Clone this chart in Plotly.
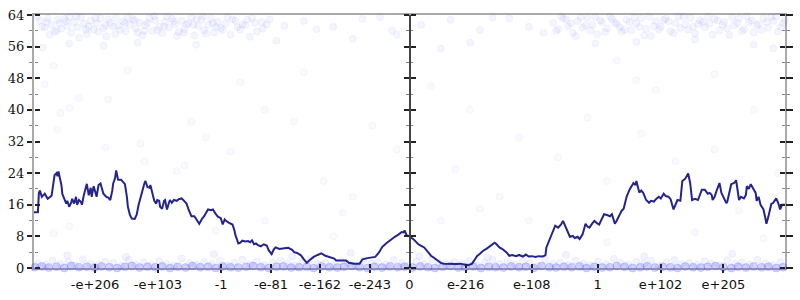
import plotly.graph_objects as go

# ---- data (x = position relative to float 0 on an ordinal scale) ----
tick_pos = [-321.6, -257.3, -192.6, -141.6, -91.6, -40.6, 0, 57.4, 125, 192.4, 256.7, 321]
tick_text = ["-e+206", "-e+103", "-1", "-e-81", "-e-162", "-e-243", "0",
             "e-216", "e-108", "1", "e+102", "e+205"]
y_ticks = [0, 8, 16, 24, 32, 40, 48, 56, 64]

line_x = [-384,-380,-379,-378,-376,-373,-370,-366,-363,-361,-360,-359,-356,-355,-353,-351,-350,-348,-346,-345,
          -343,-341,-340,-338,-336,-335,-333,-331,-330,-328,-326,-325,-323,-321,-320,-318,-316,-313,-310,-308,
          -306,-304,-303,-301,-300,-298,-295,-293,-291,-289,-288,-286,-284,-281,-279,-277,-275,-273,-271,-270,
          -268,-266,-265,-263,-261,-259,-258,-256,-255,-253,-251,-250,-248,-246,-245,-243,-241,-238,-236,-233,
          -231,-228,-226,-223,-220,-217,-215,-212,-210,-208,-206,-203,-201,-198,-196,-193,-192,-191,-189,-188,
          -185,-181,-179,-178,-175,-173,-171,-168,-165,-163,-161,-159,-157,-155,-152,-149,-146,-144,-141,-139,
          -137,-133,-128,-124,-120,-118,-115,-111,-108,-105,-102,-98,-94,-90,-86,-81,-77,-75,-70,-65,
          -62,-57,-51,-48,-43,-38,-35,-31,-28,-24,-21,-18,-15,-11,-8,-6,-5,-3,0,4,
          7,9,12,15,19,22,25,29,32,35,42,48,52,56,59,62,64,67,69,72,
          75,79,82,85,87,89,92,95,99,102,105,109,112,116,119,122,125,129,132,136,
          139,140,142,144,147,149,152,155,157,160,162,164,167,169,172,174,177,180,182,184,
          187,189,192,194,197,199,202,205,207,210,212,215,217,219,221,222,225,227,229,231,
          232,235,237,239,242,245,247,250,252,255,257,259,260,262,265,267,270,272,274,277,
          279,280,282,285,287,289,292,295,297,299,302,305,307,309,310,312,314,317,319,320,
          322,324,325,327,329,332,334,337,339,342,344,345,347,349,352,354,355,357,359,362,
          364,365,367,370,372,375,377,379,381,384]
line_y = [14.1,14.1,19.0,19.6,18.0,18.8,17.5,18.3,23.5,24.0,23.2,24.4,21.0,18.7,17.5,16.3,17.0,15.5,16.5,17.5,
          16.3,18.0,16.0,17.2,16.7,16.0,18.5,21.0,21.3,18.4,20.3,18.0,20.7,19.0,18.0,21.0,21.4,18.8,18.0,17.8,
          17.2,19.5,21.4,22.8,24.7,22.3,22.3,21.8,21.2,18.0,15.5,13.5,12.5,12.4,13.5,16.0,18.0,20.0,21.5,22.0,
          20.5,20.3,21.0,19.0,17.0,16.3,17.2,17.0,15.5,15.0,17.0,17.2,14.8,16.5,17.2,16.5,17.2,17.0,17.4,17.6,
          17.0,16.3,14.8,13.1,13.1,12.0,11.2,12.5,13.1,14.0,14.8,14.6,14.8,13.6,13.0,12.6,11.3,11.0,12.3,12.0,
          11.5,11.0,9.5,8.3,6.2,6.4,6.9,6.7,6.8,6.5,7.0,6.0,6.2,5.8,5.5,6.0,5.7,4.5,3.5,4.6,
          5.2,4.8,5.0,5.1,4.6,4.0,3.8,3.2,2.2,1.3,2.0,2.8,3.3,3.7,3.1,2.7,2.4,1.9,1.9,1.9,
          1.3,1.1,1.1,2.2,2.5,2.6,2.8,4.0,5.3,6.2,6.8,7.2,7.9,8.5,9.1,9.0,9.5,8.3,8.0,7.3,
          6.5,6.0,5.6,5.2,4.0,3.1,2.6,1.9,1.3,1.1,1.0,1.0,1.1,0.8,0.7,0.9,1.1,2.2,3.0,3.6,
          4.3,4.9,5.4,5.9,6.4,6.0,5.2,4.8,4.0,3.1,3.3,3.0,3.3,2.9,3.4,2.9,3.0,2.8,3.0,2.9,
          3.2,5.2,6.5,7.6,9.5,10.7,10.2,11.0,11.9,10.0,9.0,7.9,8.1,7.6,7.9,7.3,8.5,11.2,10.5,10.2,
          11.3,11.9,11.3,11.0,12.6,13.6,13.4,13.1,13.6,11.2,12.0,13.5,14.5,15.0,17.0,18.0,19.8,20.5,21.5,21.0,
          22.0,19.1,19.6,19.0,17.2,16.5,17.0,16.8,17.4,18.0,17.6,18.4,18.8,18.2,18.0,17.4,14.8,16.0,17.2,17.0,
          22.0,22.2,22.6,23.9,21.5,17.2,17.5,17.2,18.5,19.8,19.8,18.8,19.0,18.5,17.2,18.0,19.5,21.5,19.0,18.5,
          17.5,16.4,16.8,19.0,21.2,21.5,22.2,17.2,18.0,17.6,18.5,20.7,20.0,21.2,19.7,19.0,17.0,18.0,16.0,14.8,
          12.5,11.2,13.0,16.2,16.5,17.6,16.5,14.8,16.0,16.0]

top_pts = [(-378,62.5),(-373,60.8),(-370,63.2),(-366,61.5),(-363,59.8),(-360,62.8),(-356,60.5),(-353,63.0),
           (-350,61.2),(-346,59.5),(-343,62.2),(-340,60.9),(-336,63.4),(-333,61.8),(-330,59.2),(-326,62.6),
           (-323,60.3),(-320,61.9),(-316,63.1),(-313,60.7),(-310,58.6),(-306,62.0),(-303,61.1),(-300,63.3),
           (-296,60.2),(-293,62.4),(-290,59.9),(-286,61.6),(-283,63.0),(-280,60.6),(-276,62.1),(-273,58.9),
           (-270,61.4),(-266,63.2),(-263,60.0),(-260,62.7),(-256,61.0),(-253,59.4),(-250,62.3),(-246,60.8),
           (-243,63.1),(-240,61.7),(-236,59.7),(-233,62.5),(-230,60.4),(-226,61.9),(-223,63.3),(-220,58.8),
           (-216,61.2),(-213,62.8),(-210,60.1),(-206,61.5),(-203,63.0),(-200,59.6),(-196,62.2),(-193,60.7),
           (-188,61.8),(-183,59.0),(-178,62.6),(-173,60.3),(-168,61.4),(-163,58.5),(-158,62.0),(-150,60.6),
           (-143,62.9),(-136,57.5),(-128,61.3),
           (-376,61.0),(-368,59.0),(-358,61.9),(-348,63.5),(-338,58.3),(-328,61.1),(-318,59.8),(-308,62.9),
           (-298,61.3),(-288,63.4),(-278,59.6),(-268,62.0),(-258,60.2),(-248,63.6),(-238,58.7),(-228,61.6),
           (-218,62.9),(-208,59.3),(-198,61.0),(-186,63.5),(-176,60.9),(-166,62.8),(-156,59.8),(-146,61.6),
           (-381,63.6),(-371,62.2),(-361,60.1),(-351,62.4),(-341,63.7),(-331,60.3),(-321,63.2),(-311,61.4),
           (-301,59.2),(-291,61.9),(-281,62.6),(-271,60.0),(-261,63.7),(-251,61.1),(-241,62.4),(-231,59.5),
           (-221,61.5),(-211,63.6),(-201,62.0),(-191,60.2),(-181,62.9),(-171,61.6),(-161,63.2),(-151,62.2),
           (-375,55.8),(-348,56.8),(-313,56.2),(-278,57.0),(-218,56.5),
           (-108,62.5),(-78,61.0),(-48,63.0),(-18,60.0),(-13,59.0),(12,61.5),(42,62.8),(72,60.2),(102,63.1),
           (122,61.0),(137,59.5),(62,57.0),(32,55.5),(-58,58.0),(-95,60.4),(-30,63.5),(85,63.3),
           (147,62.0),(152,60.4),(157,63.1),(162,61.2),(167,59.5),(172,62.5),(177,60.8),(182,63.3),
           (187,61.5),(192,59.1),(197,62.2),(202,60.6),(207,63.0),(212,61.7),(217,59.8),(222,62.8),
           (227,60.2),(232,61.9),(237,63.2),(242,60.5),(247,58.7),(252,62.4),(257,61.0),(262,63.1),
           (267,59.9),(272,62.0),(277,60.7),(282,61.6),(287,63.3),(292,59.3),(297,62.6),(302,60.9),
           (307,61.8),(312,63.0),(317,60.1),(322,62.3),(327,58.9),(332,61.4),(337,63.1),(342,60.4),
           (347,62.1),(352,59.6),(357,61.7),(362,63.2),(367,60.8),(372,62.5),(377,59.8),(382,61.9),
           (150,60.0),(160,62.9),(170,58.6),(180,61.4),(190,63.5),(200,59.7),(210,62.1),(220,60.3),
           (230,63.4),(240,58.8),(250,61.2),(260,62.7),(270,59.4),(280,63.5),(290,61.0),(300,62.2),
           (310,59.0),(320,61.5),(330,63.4),(340,59.9),(350,62.6),(360,60.2),(370,63.5),(380,60.9),
           (155,63.7),(165,61.9),(175,63.4),(185,60.1),(195,62.6),(205,63.6),(215,60.9),(225,62.2),
           (235,61.0),(245,63.6),(255,60.4),(265,62.4),(275,63.7),(285,60.3),(295,61.7),(305,63.6),
           (315,62.6),(325,60.6),(335,62.0),(345,63.7),(355,61.4),(365,62.2),(375,63.6),(384,62.7),
           (190,56.8),(232,57.2),(292,57.8),(352,56.5),(372,55.6)]

mid_pts = [(-357,39.2),(-360,35.0),(-338,43.0),(-311,30.5),(-275,31.5),(-271,27.0),(-223,37.0),(-293,20.0),
           (-238,24.5),(-230,26.0),(-208,33.0),(-183,29.5),(-148,40.0),(-118,37.0),(-88,22.0),(-68,14.0),
           (-38,36.0),(-13,30.0),(22,46.0),(47,25.0),(62,40.0),(92,18.0),(112,33.0),(152,28.0),(182,38.0),
           (202,22.0),(237,34.0),(272,27.0),(312,30.0),(352,40.0),(377,24.0),(-173,47.0),(-108,49.5),
           (232,47.5),(-364,8.8),(-348,10.5),(-198,9.5),(-148,12.0),(-78,8.0),(-58,18.0),(32,12.0),
           (72,15.0),(122,12.0),(202,6.5),(292,9.0),(337,14.5),(362,7.5),
           (-364,51.2),(-373,46.5),(-288,50.0),(-308,42.7),(-348,40.5),(212,52.5),(312,49.0),(252,45.0)]

low_pts = [(-383,0.2),(-376,0.4),(-369,0.1),(-361,0.3),(-353,0.0),(-346,0.5),(-338,0.2),(-330,0.3),
           (-322,0.1),(-315,0.4),(-307,0.2),(-299,0.0),(-291,0.3),(-284,0.5),(-276,0.1),(-268,0.3),
           (-260,0.2),(-253,0.4),(-245,0.0),(-237,0.3),(-229,0.1),(-222,0.5),(-214,0.2),(-206,0.3),
           (-198,0.0),(-191,0.4),(-183,0.2),(-175,0.1),(-167,0.3),(-160,0.5),(-152,0.2),(-144,0.0),
           (-136,0.3),(-129,0.4),(-121,0.1),(-113,0.2),(-105,0.3),(-98,0.0),(-90,0.4),(-82,0.2),
           (-74,0.1),(-67,0.3),(-59,0.5),(-51,0.2),(-43,0.0),(-36,0.3),(-28,0.1),(-20,0.4),
           (-12,0.2),(-5,0.3),(3,0.1),(11,0.4),(19,0.2),(26,0.0),(34,0.3),(42,0.5),
           (50,0.1),(57,0.2),(65,0.4),(73,0.0),(81,0.3),(88,0.2),(96,0.1),(104,0.4),
           (112,0.2),(119,0.3),(127,0.0),(135,0.5),(143,0.2),(150,0.1),(158,0.3),(166,0.2),
           (174,0.4),(181,0.0),(189,0.3),(197,0.1),(205,0.2),(212,0.5),(220,0.3),(228,0.0),
           (236,0.2),(243,0.4),(251,0.1),(259,0.3),(267,0.2),(274,0.0),(282,0.4),(290,0.2),
           (298,0.1),(305,0.3),(313,0.5),(321,0.2),(329,0.0),(336,0.3),(344,0.1),(352,0.4),
           (360,0.2),(367,0.3),(375,0.0),(382,0.2)]

haze_pts = [(-380,1.2),(-372,0.8),(-365,1.9),(-357,1.0),(-349,1.5),(-342,0.7),(-334,2.2),(-326,1.1),
            (-318,0.9),(-311,1.6),(-303,1.3),(-295,0.6),(-287,2.0),(-280,1.0),(-272,1.4),(-264,0.8),
            (-256,1.7),(-249,1.1),(-241,0.6),(-233,2.4),(-225,1.2),(-218,0.9),(-210,1.5),(-202,1.0),
            (-194,1.8),(-187,0.7),(-179,1.3),(-171,2.1),(-163,1.0),(-156,1.6),(-148,0.8),(-140,1.4),
            (-132,1.9),(-125,1.1),(-117,0.7),(-109,1.5),(-101,2.3),(-94,1.0),(-86,1.3),(-78,0.8),
            (-70,1.7),(-63,1.2),(-55,0.6),(-47,1.9),(-39,1.1),(-32,1.4),(-24,0.9),(-16,2.0),
            (-8,1.2),(-1,0.7),(7,1.6),(15,1.0),(23,2.2),(30,1.3),(38,0.8),(46,1.5),
            (54,1.1),(61,1.8),(69,0.7),(77,1.3),(85,2.1),(92,1.0),(100,1.5),(108,0.9),
            (116,1.7),(123,1.2),(131,0.6),(139,2.0),(147,1.1),(154,1.4),(162,0.8),(170,1.9),
            (178,1.2),(185,0.7),(193,1.6),(201,1.0),(209,2.3),(216,1.3),(224,0.9),(232,1.5),
            (240,1.1),(247,1.8),(255,0.6),(263,1.4),(271,2.0),(278,1.0),(286,1.3),(294,0.8),
            (302,1.7),(309,1.2),(317,0.7),(325,1.9),(333,1.1),(340,1.4),(348,0.9),(356,2.1),
            (364,1.2),(371,0.8),(379,1.5),
            (-350,3.2),(-290,2.8),(-200,3.5),(-120,2.9),(-60,3.8),(10,3.0),(80,2.7),(160,3.3),
            (240,2.9),(330,3.6)]

# ---- figure ----
X_RANGE = [-384, 384]
Y_RANGE = [0, 64]
AX_GRAY = "#aaaaaa"
TICK_DARK = "#222222"
TICK_MINOR = "#888888"

fig = go.Figure()

def pts_trace(pts, size, fill_alpha, line_alpha):
    return go.Scatter(
        x=[p[0] for p in pts], y=[p[1] for p in pts], mode="markers",
        marker=dict(size=size, color=f"rgba(50,50,255,{fill_alpha})",
                    line=dict(width=1, color=f"rgba(50,50,255,{line_alpha})")),
        hoverinfo="skip", showlegend=False, cliponaxis=False)

fig.add_trace(pts_trace(top_pts, 7, 0.05, 0.05))
fig.add_trace(pts_trace(mid_pts, 7, 0.03, 0.04))
fig.add_trace(pts_trace(haze_pts, 7, 0.06, 0.06))
fig.add_trace(pts_trace(low_pts, 8, 0.22, 0.15))

fig.add_trace(go.Scatter(x=line_x, y=line_y, mode="lines",
                         line=dict(color="#24248c", width=2),
                         hoverinfo="skip", showlegend=False))

# dummy traces to instantiate overlay axes
for ya in ["y2", "y3", "y4", "y5", "y6"]:
    fig.add_trace(go.Scatter(x=[None], y=[None], xaxis="x", yaxis=ya,
                             showlegend=False, hoverinfo="skip"))
fig.add_trace(go.Scatter(x=[None], y=[None], xaxis="x2", yaxis="y",
                         showlegend=False, hoverinfo="skip"))

minor_y = dict(dtick=4, ticklen=3, tickcolor=TICK_MINOR, tickwidth=1, ticks="outside")

def overlay_y(side, pos, ticklen, minorlen, show_line=False, line_color=AX_GRAY):
    return dict(overlaying="y", anchor="free", position=pos, side=side,
                range=Y_RANGE, tickvals=y_ticks, showticklabels=False,
                ticks="outside", ticklen=ticklen, tickcolor=TICK_DARK, tickwidth=1.5,
                minor=dict(dtick=4, ticklen=minorlen, tickcolor=TICK_MINOR,
                           tickwidth=1, ticks="outside"),
                showline=show_line, linecolor=line_color, linewidth=1.5,
                showgrid=False, zeroline=False, fixedrange=True)

fig.update_layout(
    width=800, height=300,
    margin=dict(l=24, r=8, t=8, b=26),
    paper_bgcolor="white", plot_bgcolor="white",
    xaxis=dict(range=X_RANGE, tickvals=tick_pos, ticktext=tick_text,
               ticks="outside", ticklen=3, tickcolor=TICK_DARK, tickwidth=1.5,
               showline=True, linecolor=AX_GRAY, linewidth=2, mirror=True,
               showgrid=False, zeroline=False,
               tickfont=dict(family="DejaVu Sans", size=13, color="#111111"),
               layer="below traces"),
    xaxis2=dict(overlaying="x", anchor="free", position=0, side="top",
                range=X_RANGE, tickvals=tick_pos, showticklabels=False,
                ticks="outside", ticklen=4, tickcolor=TICK_DARK, tickwidth=1.5,
                showline=False, showgrid=False, zeroline=False),
    yaxis=dict(range=Y_RANGE, tickvals=y_ticks,
               ticks="outside", ticklen=5, tickcolor=TICK_DARK, tickwidth=1.5,
               minor=minor_y,
               showline=True, linecolor=AX_GRAY, linewidth=2, mirror=True,
               showgrid=False, zeroline=False,
               tickfont=dict(family="DejaVu Serif", size=13, color="#111111"),
               layer="below traces"),
    yaxis2=overlay_y("right", 0, 5, 3),
    yaxis3=overlay_y("left", 0.5, 5, 2.5, show_line=True, line_color="#444444"),
    yaxis4=overlay_y("right", 0.5, 5, 2.5),
    yaxis5=overlay_y("left", 1, 5, 3),
    yaxis6=overlay_y("right", 1, 7, 4),
)

fig.write_html("out.html")
